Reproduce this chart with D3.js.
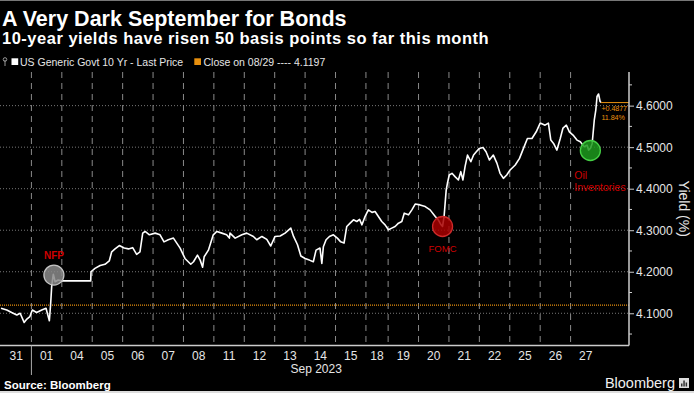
<!DOCTYPE html>
<html>
<head>
<meta charset="utf-8">
<script src="https://cdn.jsdelivr.net/npm/d3@7/dist/d3.min.js"></script>
<style>
  html, body { margin: 0; padding: 0; background: #000; }
  svg { display: block; font-family: "Liberation Sans", Arial, sans-serif; }
</style>
</head>
<body>
<svg id="chart" width="694" height="393"></svg>
<script>
// trading sessions shown on the x axis (18 Sep is a short session on the chart)
const dayLabels = ['31','01','04','05','06','07','08','11','12','13','14','15','18','19','20','21','22','25','26','27'];
const sessionLength = [1,1,1,1,1,1,1,1,1,1,1,1,0.73,1,1,1,1,1,1,1];

// [session time, yield %]
const yieldSeries = [
  [0.00,4.112],[0.19,4.108],[0.35,4.102],[0.52,4.096],[0.63,4.100],[0.76,4.078],[0.85,4.086],[0.95,4.092],
  [1.03,4.108],[1.17,4.102],[1.34,4.108],[1.48,4.112],[1.59,4.082],[1.63,4.120],[1.67,4.168],[1.72,4.194],[1.78,4.176],[1.88,4.180],[2.00,4.178],
  [2.95,4.178],[2.96,4.200],[3.09,4.208],[3.26,4.215],[3.42,4.218],[3.56,4.226],[3.64,4.248],[3.75,4.255],[3.89,4.263],
  [4.05,4.257],[4.19,4.255],[4.33,4.258],[4.46,4.242],[4.57,4.248],[4.66,4.293],[4.74,4.297],[4.88,4.289],
  [5.07,4.293],[5.23,4.289],[5.36,4.272],[5.50,4.277],[5.67,4.281],[5.78,4.269],[5.89,4.257],
  [6.05,4.232],[6.24,4.218],[6.33,4.224],[6.46,4.240],[6.55,4.228],[6.63,4.211],[6.68,4.236],[6.82,4.252],[6.98,4.289],
  [7.10,4.297],[7.26,4.293],[7.42,4.289],[7.51,4.281],[7.53,4.293],[7.70,4.281],[7.92,4.289],
  [8.08,4.293],[8.30,4.285],[8.41,4.277],[8.58,4.285],[8.74,4.278],[8.87,4.262],
  [9.01,4.285],[9.18,4.286],[9.34,4.293],[9.53,4.305],[9.62,4.285],[9.75,4.265],[9.86,4.238],
  [10.00,4.232],[10.14,4.228],[10.27,4.224],[10.36,4.252],[10.49,4.257],[10.55,4.220],[10.60,4.260],[10.69,4.277],[10.80,4.285],[10.93,4.289],
  [11.06,4.281],[11.17,4.272],[11.28,4.269],[11.37,4.309],[11.48,4.317],[11.59,4.325],[11.70,4.321],[11.79,4.326],[11.87,4.313],[11.97,4.333],
  [12.08,4.349],[12.20,4.343],[12.30,4.345],[12.41,4.333],[12.52,4.321],[12.63,4.313],[12.74,4.301],
  [12.85,4.305],[12.96,4.309],[13.07,4.317],[13.18,4.321],[13.26,4.341],[13.40,4.337],[13.51,4.349],[13.62,4.363],
  [13.78,4.361],[13.95,4.357],[14.11,4.349],[14.28,4.333],[14.38,4.325],[14.47,4.313],[14.52,4.309],[14.57,4.333],[14.64,4.397],[14.68,4.413],
  [14.74,4.433],[14.83,4.437],[14.93,4.429],[15.04,4.421],[15.12,4.441],[15.19,4.421],[15.26,4.453],[15.34,4.481],[15.45,4.465],[15.54,4.481],[15.63,4.489],
  [15.73,4.497],[15.85,4.499],[15.95,4.489],[16.06,4.469],[16.19,4.481],[16.31,4.461],[16.41,4.437],[16.52,4.425],[16.63,4.433],
  [16.74,4.445],[16.91,4.457],[17.05,4.473],[17.18,4.497],[17.31,4.521],[17.46,4.521],[17.60,4.537],
  [17.73,4.558],[17.89,4.553],[18.00,4.558],[18.08,4.517],[18.17,4.509],[18.28,4.493],[18.39,4.521],[18.48,4.546],[18.59,4.553],[18.69,4.537],
  [18.81,4.529],[18.94,4.517],[19.05,4.513],[19.18,4.501],[19.27,4.505],[19.32,4.493],[19.38,4.497],[19.44,4.509],[19.51,4.566],[19.56,4.590],
  [19.60,4.622],[19.65,4.628],[19.70,4.610],[19.73,4.6074]
];

const closeValue = 4.1197;
const yTicks = [4.1, 4.2, 4.3, 4.4, 4.5, 4.6];
const yMinorTicks = [4.05, 4.15, 4.25, 4.35, 4.45, 4.55, 4.65];

const eventNames = ['NFP', 'FOMC', 'Oil Inventories'];
const eventTime = [1.74, 14.52, 19.38];
const eventYield = [4.192, 4.309, 4.492];

// ---- layout / styles
const plot = { left: 1, right: 601, axisX: 629, top: 72, bottom: 345.5 };
const eventStyle = [
  { fill: '#8a8a8a', stroke: '#c4c4c4', labelDx: 0, labelDy: -16, anchor: 'middle', size: 10, weight: 'bold' },
  { fill: '#a80000', stroke: '#cf2a2a', labelDx: 0, labelDy: 26, anchor: 'middle', size: 9.5, weight: 'normal' },
  { fill: '#1d9a1d', stroke: '#45d045', labelDx: -16, labelDy: 29, anchor: 'start', size: 10.5, weight: 'normal' }
];
const orange = '#e8900e';
const red = '#d00000';

const svg = d3.select('#chart');

const sessionStart = d3.cumsum([0].concat(sessionLength.slice(0, -1)));
const totalSessions = d3.sum(sessionLength);

const x = d3.scaleLinear().domain([0, totalSessions]).range([plot.left, plot.right]);
const y = d3.scaleLinear().domain([4.0224, 4.681]).range([plot.bottom, plot.top]);

// frame edges of the screenshot
svg.append('rect').attr('x', 0).attr('y', 0).attr('width', 694).attr('height', 393).attr('fill', '#000');
svg.append('line').attr('x1', 0).attr('x2', 694).attr('y1', 0.5).attr('y2', 0.5).attr('stroke', '#777');
svg.append('line').attr('x1', 0).attr('x2', 694).attr('y1', 392).attr('y2', 392).attr('stroke', '#ddd').attr('stroke-width', 2);

// titles
svg.append('text').attr('x', 2).attr('y', 26).attr('fill', '#fff')
  .attr('font-size', 21.5).attr('font-weight', 'bold').text('A Very Dark September for Bonds');
svg.append('text').attr('x', 2).attr('y', 44).attr('fill', '#fff')
  .attr('font-size', 16.5).attr('font-weight', 'bold').attr('letter-spacing', 0.5)
  .text('10-year yields have risen 50 basis points so far this month');

// legend
const legend = svg.append('g').attr('font-size', 10.5).attr('fill', '#e6e6e6');
legend.append('line').attr('x1', 5).attr('x2', 5).attr('y1', 60).attr('y2', 66).attr('stroke', '#999');
legend.append('circle').attr('cx', 5).attr('cy', 59.5).attr('r', 1.8).attr('fill', 'none').attr('stroke', '#999');
legend.append('rect').attr('x', 11.5).attr('y', 58.3).attr('width', 6.7).attr('height', 6.7).attr('fill', '#fff');
legend.append('text').attr('x', 20).attr('y', 65.5).text('US Generic Govt 10 Yr - Last Price');
legend.append('rect').attr('x', 194.3).attr('y', 58.3).attr('width', 6.7).attr('height', 6.7).attr('fill', orange);
legend.append('text').attr('x', 203.5).attr('y', 65.5).text('Close on 08/29 ---- ' + closeValue.toFixed(4));

// grid: horizontal dotted
svg.append('g').selectAll('line').data(yTicks).join('line')
  .attr('x1', 0).attr('x2', plot.axisX)
  .attr('y1', d => y(d)).attr('y2', d => y(d))
  .attr('stroke', '#777').attr('stroke-width', 1).attr('stroke-dasharray', '1,2');

// grid: vertical dashed at session boundaries
const boundaries = sessionStart.slice(1);
svg.append('g').selectAll('line').data(boundaries).join('line')
  .attr('x1', d => x(d)).attr('x2', d => x(d))
  .attr('y1', plot.top).attr('y2', plot.bottom)
  .attr('stroke', '#8a8a8a').attr('stroke-width', 1).attr('stroke-dasharray', '6,5');

// close reference line
svg.append('line')
  .attr('x1', 0).attr('x2', plot.axisX)
  .attr('y1', y(closeValue)).attr('y2', y(closeValue))
  .attr('stroke', orange).attr('stroke-width', 1.2).attr('stroke-dasharray', '1,1');

// series line
const line = d3.line().x(d => x(d[0])).y(d => y(d[1]));
svg.append('path').datum(yieldSeries)
  .attr('d', line).attr('fill', 'none').attr('stroke', '#fff')
  .attr('stroke-width', 1.6).attr('stroke-linejoin', 'round');

// last value marker and change labels
const last = yieldSeries[yieldSeries.length - 1];
const change = last[1] - closeValue;
svg.append('line')
  .attr('x1', x(last[0])).attr('x2', plot.axisX)
  .attr('y1', y(last[1])).attr('y2', y(last[1]))
  .attr('stroke', orange).attr('stroke-width', 1);
svg.append('text').attr('x', x(last[0]) + 0.5).attr('y', y(last[1]) + 8.5)
  .attr('fill', orange).attr('font-size', 7.2).attr('letter-spacing', -0.1)
  .text((change >= 0 ? '+' : '') + change.toFixed(4));
svg.append('text').attr('x', x(last[0]) + 0.5).attr('y', y(last[1]) + 17.5)
  .attr('fill', orange).attr('font-size', 7.2).attr('letter-spacing', -0.1)
  .text((change / closeValue * 100).toFixed(2) + '%');

// event markers
const events = eventNames.map((name, i) => ({ name, t: eventTime[i], v: eventYield[i], s: eventStyle[i] }));
const ev = svg.append('g').selectAll('g').data(events).join('g');
ev.append('circle')
  .attr('cx', d => x(d.t)).attr('cy', d => y(d.v)).attr('r', 10)
  .attr('fill', d => d.s.fill).attr('fill-opacity', 0.85)
  .attr('stroke', d => d.s.stroke).attr('stroke-width', 1.3);
ev.each(function (d) {
  const g = d3.select(this);
  const words = d.name === 'Oil Inventories' ? ['Oil', 'Inventories'] : [d.name];
  words.forEach((w, k) => {
    g.append('text')
      .attr('x', x(d.t) + d.s.labelDx)
      .attr('y', y(d.v) + d.s.labelDy + k * 12)
      .attr('text-anchor', d.s.anchor)
      .attr('fill', red).attr('font-size', d.s.size).attr('font-weight', d.s.weight)
      .text(w);
  });
});

// right axis
const yAxis = d3.axisRight(y).tickValues(yTicks).tickSize(5).tickPadding(2).tickFormat(d3.format('.4f'));
const ay = svg.append('g').attr('transform', `translate(${plot.axisX},0)`).call(yAxis);
ay.select('.domain').remove();
ay.selectAll('.tick line').attr('stroke', '#ccc');
ay.selectAll('.tick text').attr('fill', '#e6e6e6').attr('font-size', 12)
  .attr('font-family', '"Liberation Sans", Arial, sans-serif');
svg.append('g').selectAll('line').data(yMinorTicks).join('line')
  .attr('x1', plot.axisX).attr('x2', plot.axisX + 3)
  .attr('y1', d => y(d)).attr('y2', d => y(d))
  .attr('stroke', '#ccc');
svg.append('line')
  .attr('x1', plot.axisX).attr('x2', plot.axisX)
  .attr('y1', plot.top).attr('y2', plot.bottom)
  .attr('stroke', '#ccc').attr('stroke-width', 1.5);
svg.append('text')
  .attr('transform', `translate(679,${(plot.top + plot.bottom) / 2}) rotate(90)`)
  .attr('text-anchor', 'middle').attr('fill', '#e6e6e6').attr('font-size', 14)
  .text('Yield (%)');

// bottom axis
svg.append('line')
  .attr('x1', 0).attr('x2', plot.axisX)
  .attr('y1', plot.bottom).attr('y2', plot.bottom)
  .attr('stroke', '#ccc').attr('stroke-width', 1.5);
svg.append('g').selectAll('text').data(dayLabels).join('text')
  .attr('x', (d, i) => x(sessionStart[i] + sessionLength[i] / 2))
  .attr('y', 359.5)
  .attr('text-anchor', 'middle').attr('fill', '#e6e6e6').attr('font-size', 12)
  .text(d => d);
// month separator and month label
svg.append('line')
  .attr('x1', x(sessionStart[1])).attr('x2', x(sessionStart[1]))
  .attr('y1', plot.bottom).attr('y2', 375)
  .attr('stroke', '#aaa');
svg.append('text')
  .attr('x', x((sessionStart[1] + totalSessions) / 2)).attr('y', 373)
  .attr('text-anchor', 'middle').attr('fill', '#e6e6e6').attr('font-size', 12)
  .text('Sep 2023');

// footer
svg.append('text').attr('x', 4).attr('y', 389).attr('fill', '#fff')
  .attr('font-size', 11.5).attr('font-weight', 'bold').text('Source: Bloomberg');
svg.append('text').attr('x', 675).attr('y', 388).attr('text-anchor', 'end')
  .attr('fill', '#f0f0f0').attr('font-size', 14.5).text('Bloomberg');
const icon = svg.append('g').attr('transform', 'translate(679,378)');
icon.append('rect').attr('width', 10).attr('height', 10).attr('fill', '#ddd');
icon.selectAll('rect.bar').data([3, 6, 4]).join('rect').attr('class', 'bar')
  .attr('x', (d, i) => 2 + i * 2.3).attr('y', d => 8.5 - d).attr('width', 1.5).attr('height', d => d)
  .attr('fill', '#333');
</script>
</body>
</html>
